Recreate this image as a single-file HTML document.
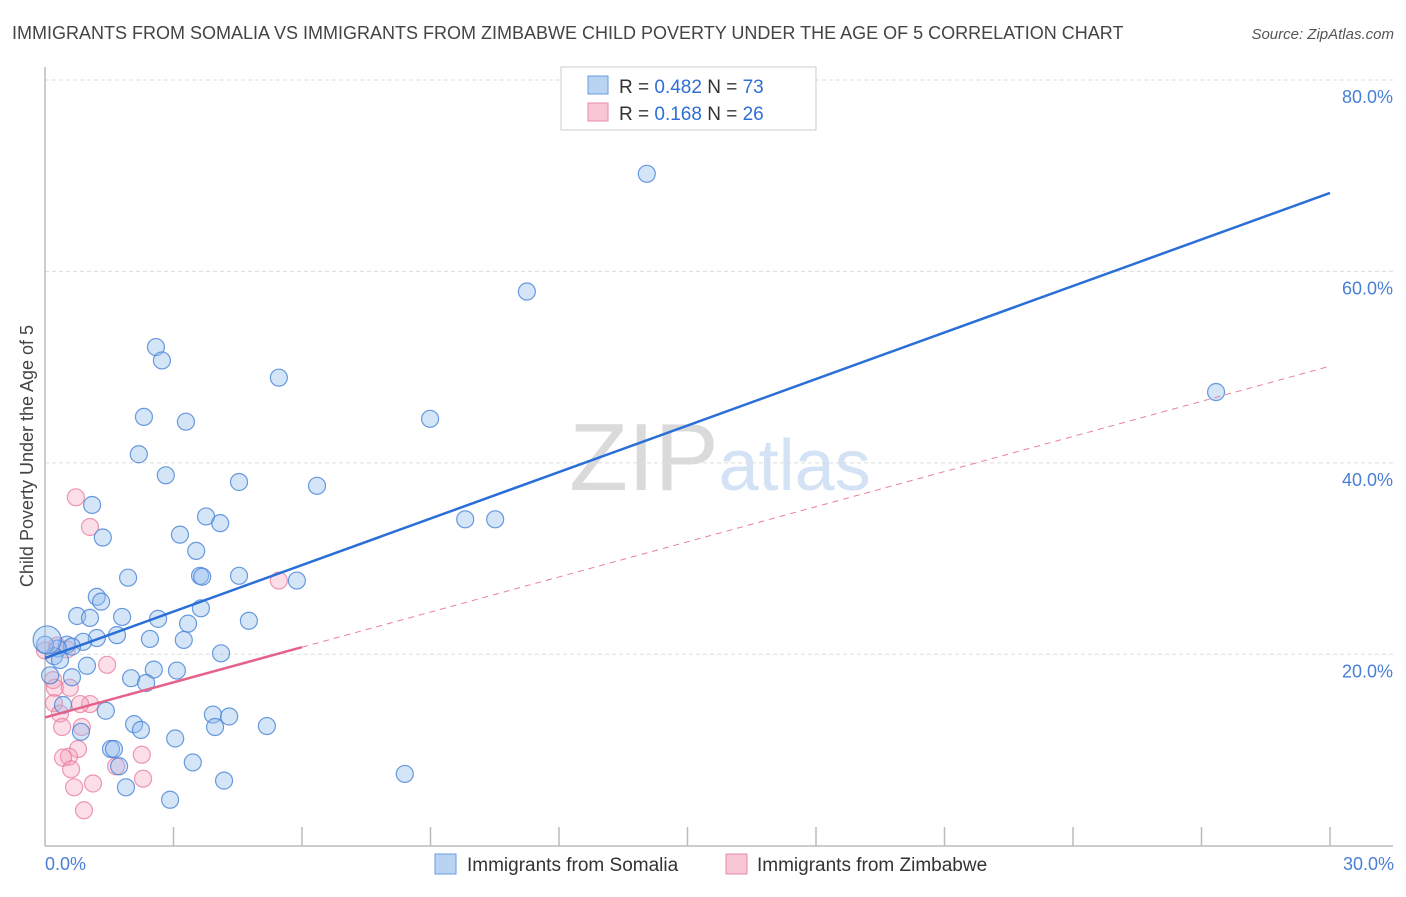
<!DOCTYPE html>
<html><head><meta charset="utf-8"><style>
body{margin:0;background:#fff;font-family:"Liberation Sans",sans-serif;}
svg text{font-family:"Liberation Sans",sans-serif;}
</style></head><body>
<svg id="chart" width="1406" height="892" viewBox="0 0 1406 892" xmlns="http://www.w3.org/2000/svg">
<text x="12" y="39" font-size="18" fill="#444">IMMIGRANTS FROM SOMALIA VS IMMIGRANTS FROM ZIMBABWE CHILD POVERTY UNDER THE AGE OF 5 CORRELATION CHART</text>
<text x="1394" y="39" font-size="15" fill="#555" text-anchor="end" font-style="italic">Source: ZipAtlas.com</text>
<text x="720" y="490" font-size="96" fill="#e4e4e4" text-anchor="middle" font-family="Liberation Serif"><tspan fill="#dadada">ZIP</tspan><tspan fill="#d4e2f5" font-family="Liberation Sans" font-size="72">atlas</tspan></text>
<g id="grid"></g>
<g id="axes"></g>
<g id="points"></g>
<g id="trends"></g>
<text transform="translate(33,456) rotate(-90)" font-size="18" fill="#444" text-anchor="middle">Child Poverty Under the Age of 5</text>
<text x="45" y="870" font-size="18" fill="#4a7fd6">0.0%</text>
<text x="1394" y="870" font-size="18" fill="#4a7fd6" text-anchor="end">30.0%</text>
<g>
<rect x="561" y="67" width="255" height="63" fill="#fff" stroke="#ccc"/>
<rect x="588" y="76" width="20" height="18" fill="#b9d3f3" stroke="#6a9de0"/>
<rect x="588" y="103" width="20" height="18" fill="#f8c6d4" stroke="#e88aa6"/>
<text x="619" y="93" font-size="19" fill="#333">R = <tspan fill="#2e6fd6">0.482</tspan>   N = <tspan fill="#2e6fd6">73</tspan></text>
<text x="619" y="120" font-size="19" fill="#333">R =  <tspan fill="#2e6fd6">0.168</tspan>   N = <tspan fill="#2e6fd6">26</tspan></text>
</g>
<g>
<rect x="435" y="854" width="21" height="20" fill="#b9d3f3" stroke="#6a9de0"/>
<text x="467" y="871" font-size="19" fill="#333">Immigrants from Somalia</text>
<rect x="726" y="854" width="21" height="20" fill="#f8c6d4" stroke="#e88aa6"/>
<text x="757" y="871" font-size="19" fill="#333">Immigrants from Zimbabwe</text>
</g>
</svg>
<script>
const yTicks=[20,40,60,80];
const xTicks=[3,6,9,12,15,18,21,24,27,30];
const somaliaX=[14.05,11.25,27.34,2.59,2.73,5.46,2.31,3.29,8.99,2.19,2.82,4.53,6.35,1.10,3.76,4.09,9.81,10.51,1.35,3.15,3.53,3.62,3.67,4.53,5.88,1.94,1.21,1.31,0.75,1.05,1.80,3.64,2.64,3.34,4.76,1.68,1.21,2.45,3.24,0.89,0.51,0.63,0.30,0.21,0.0,0.35,4.11,0.98,2.54,3.08,2.01,2.36,0.63,0.12,1.42,0.42,2.08,2.24,0.84,3.04,3.92,3.97,4.30,5.18,1.54,1.61,1.73,3.45,1.89,4.18,8.40,2.92,0.05];
const somaliaY=[70.2,57.9,47.4,52.1,50.7,48.9,44.8,44.3,44.6,40.9,38.7,38.0,37.6,35.6,34.4,33.7,34.1,34.1,32.2,32.5,30.8,28.2,28.1,28.2,27.7,28.0,26.0,25.5,24.0,23.8,23.9,24.8,23.7,23.2,23.5,21.999,21.7,21.6,21.5,21.3,21.0,20.8,20.6,19.8,21.0,19.4,20.1,18.8,18.4,18.3,17.5,17.0,17.6,17.8,14.1,14.7,12.7,12.1,11.9,11.2,13.7,12.4,13.5,12.5,10.1,10.1,8.3,8.7,6.1,6.8,7.5,4.8,21.5];
const zimbabweX=[0.72,1.05,1.45,0.28,5.46,0.51,0.19,0.23,0.58,0.21,1.05,0.82,0.35,0.86,0.40,0.77,0.56,0.42,0.61,2.26,2.29,1.66,1.12,0.68,0.91,0.0];
const zimbabweY=[36.4,33.3,18.9,20.9,27.7,20.5,17.3,16.5,16.5,14.9,14.8,14.8,13.8,12.4,12.4,10.1,9.3,9.2,7.98,9.5,7.0,8.3,6.5,6.1,3.7,20.4];
const somaliaTrend=[19.6,68.2];
const zimbabweTrend=[13.4,50.1];
const zimbabweSolidEnd=6;

const NS="http://www.w3.org/2000/svg";
const X0=45,X1=1330,Y0=845.7,Y80=80;
function sx(v){return X0+(X1-X0)*v/30;}
function sy(v){return Y0-(Y0-Y80)*v/80;}
function mk(tag,attrs,parent){const e=document.createElementNS(NS,tag);for(const k in attrs)e.setAttribute(k,attrs[k]);parent.appendChild(e);return e;}
const grid=document.getElementById('grid'),axes=document.getElementById('axes'),pts=document.getElementById('points'),tr=document.getElementById('trends');
yTicks.forEach(t=>{
  const l=mk('line',{x1:45,x2:1393,y1:sy(t),y2:sy(t),stroke:'#ddd','stroke-dasharray':'4,3'},grid);
  
  
  const tx=mk('text',{x:1393,y:sy(t)+23,'font-size':18,fill:'#4a7fd6','text-anchor':'end'},grid);
  tx.textContent=t.toFixed(1)+'%';
  
  
});
const ya=mk('line',{x1:45,x2:45,y1:67,y2:846,stroke:'#bbb','stroke-width':1.5},axes);


const xa=mk('line',{x1:45,x2:1393,y1:846,y2:846,stroke:'#bbb','stroke-width':1.5},axes);


xTicks.forEach(t=>{
  const l=mk('line',{x1:sx(t),x2:sx(t),y1:827,y2:846,stroke:'#bbb','stroke-width':1.5},axes);
  
  
});
zimbabweX.forEach((x,i)=>{
  const c=mk('circle',{cx:sx(x),cy:sy(zimbabweY[i]),r:8.5,fill:'rgba(244,160,186,0.35)',stroke:'rgba(232,120,155,0.75)','stroke-width':1.2},pts);
  
  
});
somaliaX.forEach((x,i)=>{
  const big=i===somaliaX.length-1;
  const c=mk('circle',{cx:sx(x),cy:sy(somaliaY[i]),r:big?14:8.5,fill:'rgba(150,190,238,0.4)',stroke:'rgba(70,130,215,0.8)','stroke-width':1.2},pts);
  
  
});
const bt=mk('line',{x1:sx(0),y1:sy(somaliaTrend[0]),x2:sx(30),y2:sy(somaliaTrend[1]),stroke:'#2a6fd8','stroke-width':2.5},tr);


const zy=v=>zimbabweTrend[0]+(zimbabweTrend[1]-zimbabweTrend[0])*v/30;
const pd=mk('line',{x1:sx(zimbabweSolidEnd),y1:sy(zy(zimbabweSolidEnd)),x2:sx(30),y2:sy(zimbabweTrend[1]),stroke:'#e8809f','stroke-width':1,'stroke-dasharray':'6,5'},tr);


const ps=mk('line',{x1:sx(0),y1:sy(zimbabweTrend[0]),x2:sx(zimbabweSolidEnd),y2:sy(zy(zimbabweSolidEnd)),stroke:'#e4628a','stroke-width':2.5},tr);


</script>
</body></html>
